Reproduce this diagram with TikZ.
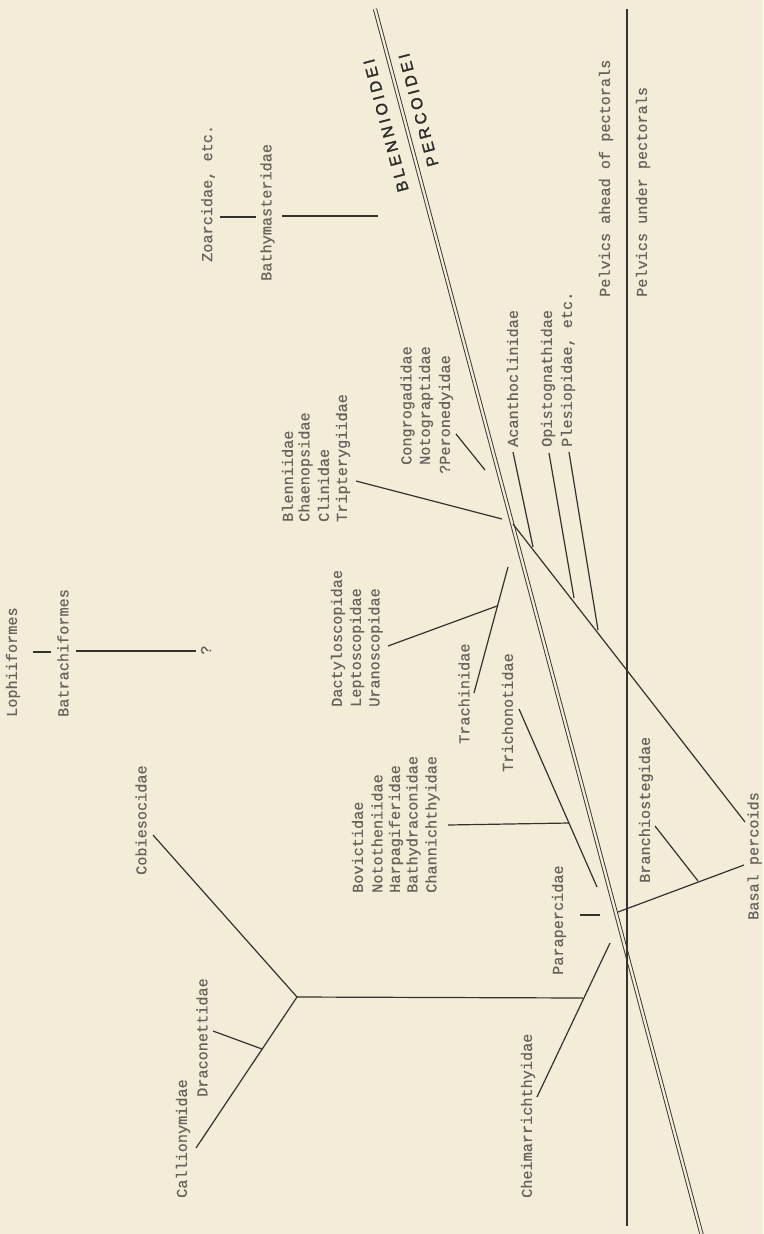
\documentclass[tikz,border=0pt]{standalone}
\usepackage{fontspec}
\newfontfamily\tw[FakeBold=0.6]{Liberation Mono}
\newfontfamily\lett[LetterSpace=22,FakeBold=1.6]{Liberation Sans}
\definecolor{bgc}{HTML}{F2ECD9}
\definecolor{linec}{HTML}{35312C}
\definecolor{txtc}{HTML}{67635B}
\definecolor{letc}{HTML}{2E2C28}
\tikzset{
  lbl/.style={rotate=90, anchor=west, inner sep=0pt, text=txtc, font=\tw\fontsize{15.2}{18}\selectfont},
  grp/.style={lbl},
  br/.style={draw=linec, line width=1.2pt},
  divider/.style={draw=linec, line width=0.9pt, double=bgc, double distance=2.3pt},
  tag/.style={rotate=104.8, anchor=center, inner sep=0pt, text=letc, font=\lett\fontsize{16}{18}\selectfont}
}
\begin{document}
\begin{tikzpicture}[x=1pt,y=-1pt]
\fill[bgc] (0,0) rectangle (763,1234);
\useasboundingbox (0,0) rectangle (763,1234);

% ---- coordinates
\coordinate (dtop) at (375,9);
\coordinate (dbot) at (702,1236);
\coordinate (vtop) at (627,9);
\coordinate (vbot) at (627,1226);

\coordinate (z1) at (220,217); \coordinate (z2) at (256,217);
\coordinate (b1) at (282,216); \coordinate (b2) at (378,216);
\coordinate (l1) at (33,652);  \coordinate (l2) at (51,652);
\coordinate (t1) at (76,651);  \coordinate (t2) at (196,651);

\coordinate (vx) at (297,997);
\coordinate (cob) at (153,835);
\coordinate (hz) at (583,998);
\coordinate (calE) at (196,1148);
\coordinate (draJ) at (262,1049);
\coordinate (draE) at (213,1031);

\coordinate (cheE) at (537,1097);
\coordinate (cheT) at (610,943);
\coordinate (par1) at (580,915); \coordinate (par2) at (600,915);

\coordinate (triE) at (519,709);
\coordinate (triT) at (597,887);
\coordinate (bovE) at (448,825);
\coordinate (bovJ) at (569,823);

\coordinate (traE) at (474,693);
\coordinate (traT) at (508,567);
\coordinate (uraE) at (388,646);
\coordinate (uraJ) at (497,606);

\coordinate (blnE) at (356,481);
\coordinate (blnT) at (502,519);
\coordinate (conE) at (456,434);
\coordinate (conT) at (485,470);

\coordinate (lgT) at (513,524);
\coordinate (lgB) at (745,822);
\coordinate (acaE) at (513,452); \coordinate (acaJ) at (533,547);
\coordinate (opiE) at (549,453); \coordinate (opiJ) at (574,598);
\coordinate (pleE) at (569,452); \coordinate (pleJ) at (598,630);

\coordinate (brS) at (618,912);
\coordinate (brE) at (744,865);
\coordinate (brJ) at (698,881);
\coordinate (brB) at (655,826);

% ---- connectors
\draw[divider] (dtop) -- (dbot);
\draw[br] (vtop) -- (vbot);

\draw[br] (z1) -- (z2);
\draw[br] (b1) -- (b2);
\draw[br] (l1) -- (l2);
\draw[br] (t1) -- (t2);

\draw[br] (cob) -- (vx) -- (calE);
\draw[br] (vx) -- (hz);
\draw[br] (draJ) -- (draE);

\draw[br] (cheE) -- (cheT);
\draw[br] (par1) -- (par2);
\draw[br] (triE) -- (triT);
\draw[br] (bovE) -- (bovJ);
\draw[br] (traE) -- (traT);
\draw[br] (uraE) -- (uraJ);
\draw[br] (blnE) -- (blnT);
\draw[br] (conE) -- (conT);
\draw[br] (lgT) -- (lgB);
\draw[br] (acaE) -- (acaJ);
\draw[br] (opiE) -- (opiJ);
\draw[br] (pleE) -- (pleJ);
\draw[br] (brS) -- (brE);
\draw[br] (brJ) -- (brB);

% ---- labels
\node[lbl] (zoar) at (208,262) {Zoarcidae, etc.};
\node[lbl] (bathy) at (267.5,281) {Bathymasteridae};
\node[lbl] (loph) at (13,717) {Lophiiformes};
\node[lbl] (batr) at (63,717) {Batrachiformes};
\node[lbl, anchor=center] (qm) at (206,650) {?};
\node[lbl] (cobi) at (141,875) {Cobiesocidae};
\node[lbl] (drac) at (202,1097) {Draconettidae};
\node[lbl] (call) at (183,1198) {Callionymidae};
\node[lbl] (chei) at (528,1198) {Cheimarrichthyidae};
\node[lbl] (para) at (559,975) {Parapercidae};
\node[lbl] (bran) at (646,883) {Branchiostegidae};
\node[lbl] (basal) at (754.5,920) {Basal percoids};
\node[lbl] (trichon) at (507.5,772) {Trichonotidae};
\node[lbl] (trachin) at (464,744) {Trachinidae};

\node[grp] (bov1) at (357.5,893) {Bovictidae};
\node[grp] (bov2) at (377,893) {Nototheniidae};
\node[grp] (bov3) at (396,893) {Harpagiferidae};
\node[grp] (bov4) at (413.5,893) {Bathydraconidae};
\node[grp] (bov5) at (432.5,893) {Channichthyidae};

\node[grp] (dac1) at (338,707) {Dactyloscopidae};
\node[grp] (dac2) at (357,707) {Leptoscopidae};
\node[grp] (dac3) at (375.5,707) {Uranoscopidae};

\node[grp] (bln1) at (287.5,522) {Blenniidae};
\node[grp] (bln2) at (305.5,522) {Chaenopsidae};
\node[grp] (bln3) at (323.5,522) {Clinidae};
\node[grp] (bln4) at (343,522) {Tripterygiidae};

\node[grp] (con1) at (407.5,465) {Congrogadidae};
\node[grp] (con2) at (426,465) {Notograptidae};
\node[grp] (con3) at (446,474) {?Peronedyidae};

\node[lbl] (acan) at (512.5,447) {Acanthoclinidae};
\node[lbl] (opis) at (548,447) {Opistognathidae};
\node[lbl] (ples) at (568,447) {Plesiopidae, etc.};

\node[lbl] (pahead) at (606,297) {Pelvics ahead of pectorals};
\node[lbl] (punder) at (643,297) {Pelvics under pectorals};

\node[tag] (blen) at (386,125.5) {BLENNIOIDEI};
\node[tag] (perc) at (418.5,110) {PERCOIDEI};
\end{tikzpicture}
\end{document}
